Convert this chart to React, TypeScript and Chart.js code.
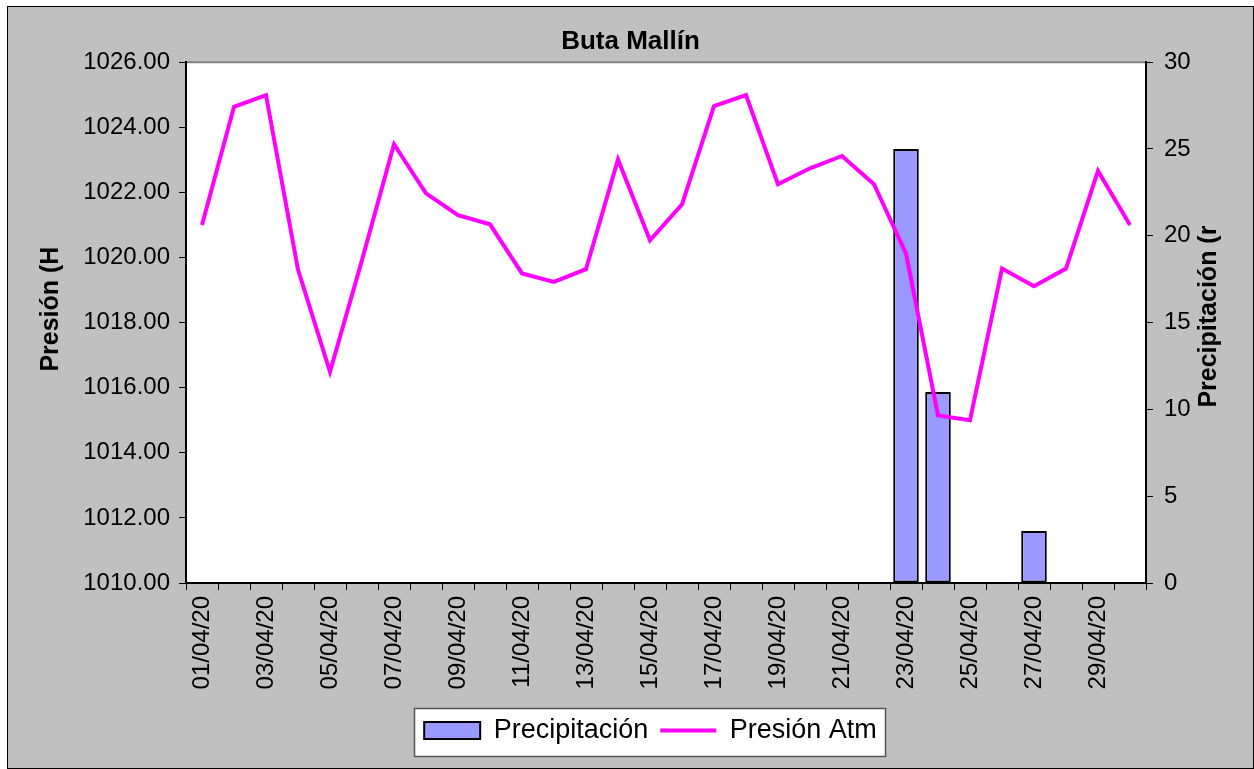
import React, { useEffect, useRef } from 'react';
import { Chart, registerables } from 'chart.js';

Chart.register(...registerables);

const categories = [
  '01/04/20', '02/04/20', '03/04/20', '04/04/20', '05/04/20', '06/04/20',
  '07/04/20', '08/04/20', '09/04/20', '10/04/20', '11/04/20', '12/04/20',
  '13/04/20', '14/04/20', '15/04/20', '16/04/20', '17/04/20', '18/04/20',
  '19/04/20', '20/04/20', '21/04/20', '22/04/20', '23/04/20', '24/04/20',
  '25/04/20', '26/04/20', '27/04/20', '28/04/20', '29/04/20', '30/04/20',
];

const pressure = [
  1021.0, 1024.63, 1024.99, 1019.63, 1016.49, 1019.92, 1023.48, 1021.97, 1021.3, 1021.02,
  1019.51, 1019.25, 1019.64, 1023.01, 1020.53, 1021.63, 1024.65, 1024.99, 1022.25, 1022.74,
  1023.12, 1022.25, 1020.12, 1015.15, 1015.0, 1019.66, 1019.12, 1019.66, 1022.66, 1021.0,
];

const precipitation = [
  0, 0, 0, 0, 0, 0, 0, 0, 0, 0,
  0, 0, 0, 0, 0, 0, 0, 0, 0, 0,
  0, 0, 25, 11, 0, 0, 3, 0, 0, 0,
];

const seriesNames = ['Precipitación', 'Presión Atm'];
const chartTitle = 'Buta Mallín';
const leftAxisTitle = 'Presión (H';
const rightAxisTitle = 'Precipitación (r';

const pressureRange = [1010, 1026, 2];
const precipRange = [0, 30, 5];

const FONT = '"Liberation Sans", Arial, sans-serif';

const framePlugin = {
  id: 'frame',
  afterLayout(chart: any) {
    const lg = chart.legend;
    if (lg) {
      lg.left += 20;
      lg.right += 20;
    }
  },
  beforeDraw(chart: any) {
    const { ctx, chartArea: a } = chart;
    ctx.save();
    ctx.fillStyle = '#ffffff';
    ctx.fillRect(a.left, a.top, a.right - a.left, a.bottom - a.top);
    ctx.strokeStyle = '#808080';
    ctx.lineWidth = 2;
    ctx.beginPath();
    ctx.moveTo(a.left, a.top);
    ctx.lineTo(a.right, a.top);
    ctx.stroke();
    const hb = chart.legend && chart.legend.legendHitBoxes;
    if (hb && hb.length) {
      const last = hb[hb.length - 1];
      const l = Math.round(hb[0].left - 10) + 0.5;
      const r = Math.round(last.left + last.width + 8) + 0.5;
      const cy = hb[0].top + hb[0].height / 2;
      const t = Math.round(cy - 22.5) + 0.5;
      const b = Math.round(cy + 25.5) + 0.5;
      ctx.fillStyle = '#ffffff';
      ctx.fillRect(l, t, r - l, b - t);
      ctx.strokeStyle = '#555555';
      ctx.lineWidth = 1.5;
      ctx.strokeRect(l, t, r - l, b - t);
    }
    ctx.restore();
  },
  afterDraw(chart: any) {
    const { ctx, chartArea: a } = chart;
    const mid = (a.top + a.bottom) / 2;
    ctx.save();
    ctx.fillStyle = '#000';
    ctx.font = `bold 25px ${FONT}`;
    ctx.textAlign = 'center';
    ctx.textBaseline = 'alphabetic';
    ctx.save();
    ctx.translate(a.left - 128, mid - 13.5);
    ctx.rotate(-Math.PI / 2);
    ctx.fillText(leftAxisTitle, 0, 0);
    ctx.restore();
    ctx.save();
    ctx.translate(a.right + 70, mid - 6);
    ctx.rotate(-Math.PI / 2);
    ctx.fillText(rightAxisTitle, 0, 0);
    ctx.restore();
    ctx.restore();
  },
};

export default function App() {
  const ref = useRef<HTMLCanvasElement>(null);

  useEffect(() => {
    const tickFont = { family: FONT, size: 24 };
    const chart = new Chart(ref.current as HTMLCanvasElement, {
      type: 'bar',
      data: {
        labels: categories,
        datasets: [
          {
            type: 'bar',
            label: seriesNames[0],
            data: precipitation,
            yAxisID: 'y1',
            backgroundColor: '#9999ff',
            borderColor: '#000000',
            borderWidth: 2,
            borderSkipped: false,
            barPercentage: 0.8,
            categoryPercentage: 1,
            order: 1,
          } as any,
          {
            type: 'line',
            label: seriesNames[1],
            data: pressure,
            yAxisID: 'y',
            borderColor: '#ff00ff',
            backgroundColor: '#ff00ff',
            borderWidth: 4,
            pointRadius: 0,
            tension: 0,
            fill: false,
            order: 0,
          } as any,
        ],
      },
      options: {
        responsive: false,
        animation: false,
        layout: { padding: { left: 0, right: 0, top: 0, bottom: 14 } },
        plugins: {
          title: {
            display: true,
            text: chartTitle,
            color: '#000',
            font: { family: FONT, size: 26, weight: 'bold' },
            padding: { top: 19, bottom: 5 },
          },
          legend: {
            position: 'bottom',
            labels: {
              color: '#000',
              font: { family: FONT, size: 27 },
              usePointStyle: true,
              pointStyleWidth: 56,
              boxHeight: 17,
              padding: 12,
              generateLabels: (c: any) => {
                const items = (Chart.defaults.plugins.legend.labels as any).generateLabels(c);
                items.forEach((it: any) => {
                  it.pointStyle = it.datasetIndex === 0 ? 'rect' : 'line';
                });
                return items.sort((p: any, q: any) => p.datasetIndex - q.datasetIndex);
              },
            },
          },
          tooltip: { enabled: false },
        },
        scales: {
          x: {
            offset: true,
            grid: { offset: true, drawOnChartArea: false, drawTicks: true, tickLength: 7, color: '#000' },
            border: { display: true, color: '#000', width: 2 },
            ticks: {
              autoSkip: false,
              minRotation: 90,
              maxRotation: 90,
              padding: 6,
              color: '#000',
              font: tickFont,
              callback: (_v: any, i: number) => (i % 2 === 0 ? categories[i] : ''),
            },
            afterFit: (s: any) => { s.height = 122; },
          },
          y: {
            position: 'left',
            min: pressureRange[0],
            max: pressureRange[1],
            ticks: {
              stepSize: pressureRange[2],
              padding: 9,
              color: '#000',
              font: tickFont,
              callback: (v: any) => Number(v).toFixed(2),
            },
            grid: { drawOnChartArea: false, drawTicks: true, tickLength: 7, color: '#000' },
            border: { display: true, color: '#000', width: 2 },
            afterFit: (s: any) => { s.width = 178; },
          },
          y1: {
            position: 'right',
            min: precipRange[0],
            max: precipRange[1],
            ticks: {
              stepSize: precipRange[2],
              padding: 11,
              color: '#000',
              font: tickFont,
            },
            grid: { drawOnChartArea: false, drawTicks: true, tickLength: 7, color: '#000' },
            border: { display: true, color: '#000', width: 2 },
            afterFit: (s: any) => { s.width = 107; },
          },
        },
      } as any,
      plugins: [framePlugin as any],
    });
    return () => chart.destroy();
  }, []);

  return (
    <div
      style={{
        position: 'absolute',
        left: 7,
        top: 6,
        width: 1247,
        height: 763,
        boxSizing: 'border-box',
        border: '1px solid #000',
        background: '#c0c0c0',
      }}
    >
      <canvas ref={ref} width={1245} height={761} style={{ display: 'block', width: 1245, height: 761 }} />
    </div>
  );
}
